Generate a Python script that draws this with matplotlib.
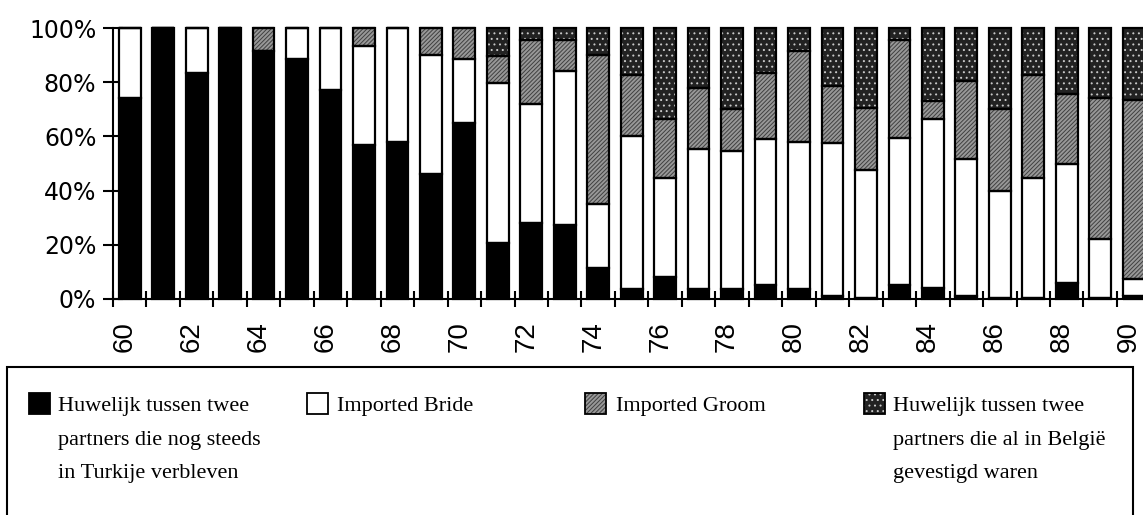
import numpy as np
import matplotlib
matplotlib.use('Agg')
import matplotlib.pyplot as plt
import matplotlib.transforms as mtransforms
from matplotlib.patches import Rectangle

# jaren 1960-1990, aandeel per type huwelijk (%)
years = np.arange(60, 91)
turkije = [74, 100, 83.5, 100, 91.4, 88.6, 77, 57, 58, 46.3, 65, 20.6, 28.2, 27.2, 11.3,
           3.7, 8, 3.7, 3.7, 5, 3.7, 1, 0.5, 5.2, 4, 1, 0.5, 0.5, 6, 0.5, 1]
bride = [26, 0, 16.5, 0, 0, 11.4, 23, 36.5, 42, 43.9, 23.5, 59.2, 43.6, 56.8, 23.7,
         56.3, 36.8, 51.8, 50.9, 54, 54.3, 56.7, 47.1, 54.3, 62.5, 50.8, 39.4, 44.3, 43.7, 21.5, 6.4]
groom = [0, 0, 0, 0, 8.6, 0, 0, 6.5, 0, 9.8, 11.5, 9.8, 23.9, 11.7, 55.2,
         22.8, 21.5, 22.5, 15.4, 24.4, 33.4, 20.8, 23, 36.2, 6.5, 28.6, 30.1, 37.7, 25.8, 52.2, 66.2]
belgie = [0, 0, 0, 0, 0, 0, 0, 0, 0, 0, 0, 10.4, 4.3, 4.3, 9.8,
          17.2, 33.7, 22, 30, 16.6, 8.6, 21.5, 29.4, 4.3, 27, 19.6, 30, 17.5, 24.5, 25.8, 26.4]

labels = ['Huwelijk tussen twee\npartners die nog steeds\nin Turkije verbleven',
          'Imported Bride',
          'Imported Groom',
          'Huwelijk tussen twee\npartners die al in België\ngevestigd waren']

# (facecolor, hatch, hatchcolor)
styles = [('black', None, 'black'),
          ('white', None, 'black'),
          ('#989898', '////////', '#404040'),
          ('#222222', '...', '#c8c8c8')]

plt.rcParams['hatch.linewidth'] = 0.7

W, H = 1143, 515
fig = plt.figure(figsize=(W/100, H/100), dpi=100)
ax = fig.add_axes([113/W, 1-299/H, (W-113)/W, (299-28)/H])

bw = 0.65
bottom = np.zeros(len(years))
for vals, (fc, h, hc) in zip([turkije, bride, groom, belgie], styles):
    vals = np.array(vals, dtype=float)
    ax.bar(years, vals, bw, bottom=bottom, color=fc, hatch=h, edgecolor=hc,
           linewidth=0, zorder=2)
    ax.bar(years, vals, bw, bottom=bottom, fill=False, edgecolor='black',
           linewidth=1.6, zorder=3, clip_on=False)
    bottom += vals

ax.set_xlim(59.567, 90.28)
ax.set_ylim(0, 100)
for s in ['top', 'right']:
    ax.spines[s].set_visible(False)
for s in ['left', 'bottom']:
    ax.spines[s].set_linewidth(1.5)

ax.set_yticks([0, 20, 40, 60, 80, 100])
ax.set_yticklabels(['%d%%' % v for v in [0, 20, 40, 60, 80, 100]],
                   fontsize=17, family='DejaVu Sans')
ax.tick_params(axis='y', direction='inout', length=14, width=1.5, pad=5)

ax.set_xticks(years[::2])
ax.set_xticklabels([str(y) for y in years[::2]], rotation=90,
                   fontsize=20, family='Liberation Sans')
ax.tick_params(axis='x', which='major', length=0, pad=16)
shift = mtransforms.ScaledTranslation(-5/100, 0, fig.dpi_scale_trans)
for lbl in ax.get_xticklabels():
    lbl.set_transform(lbl.get_transform() + shift)
ax.set_xticks(np.arange(59.5, 90, 1), minor=True)
ax.tick_params(axis='x', which='minor', direction='inout', length=11.5, width=1.5)

# legenda onderaan
fig.add_artist(Rectangle((7/W, -0.05), (1133-7)/W, (H-367)/H + 0.05,
                         transform=fig.transFigure, fill=False,
                         edgecolor='black', linewidth=1.5))
patch_x = [29, 307, 585, 864]
text_x = [58, 337, 616, 893]
for px, tx, lab, (fc, h, hc) in zip(patch_x, text_x, labels, styles):
    fig.add_artist(Rectangle((px/W, 1-414/H), 21/W, 21/H, transform=fig.transFigure,
                             facecolor=fc, hatch=h, edgecolor=hc, linewidth=0))
    fig.add_artist(Rectangle((px/W, 1-414/H), 21/W, 21/H, transform=fig.transFigure,
                             fill=False, edgecolor='black', linewidth=1.3))
    fig.text(tx/W, 1-397/H, lab, fontsize=16, family='Liberation Serif',
             va='top', ha='left', linespacing=2.05)

fig.savefig('out.png', dpi=100)
